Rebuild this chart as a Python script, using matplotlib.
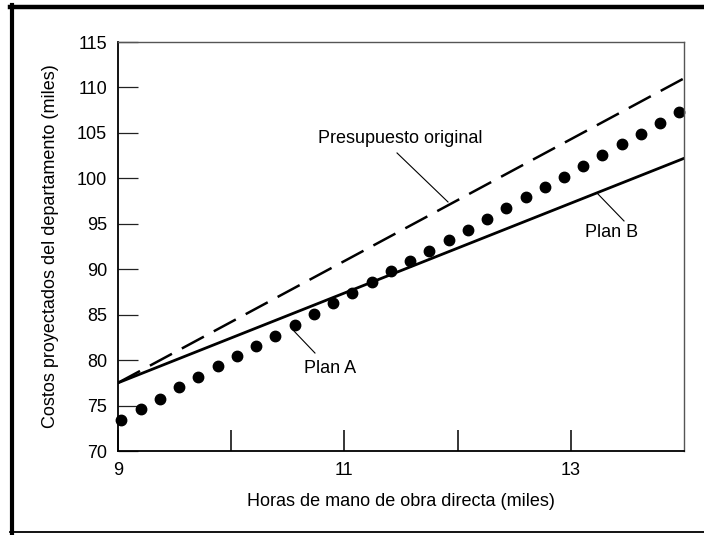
import matplotlib
matplotlib.use("Agg")
import matplotlib.pyplot as plt
from matplotlib.lines import Line2D

plt.rcParams['font.family'] = ['Liberation Sans', 'DejaVu Sans']

# Data
line_x = [9, 14]
presupuesto_original = [77.5, 111.0]
plan_b = [77.5, 102.2]

plan_a_x = [9.03, 9.20, 9.37, 9.54, 9.71, 9.88, 10.05, 10.22, 10.39, 10.56,
            10.73, 10.90, 11.07, 11.24, 11.41, 11.58, 11.75, 11.92, 12.09, 12.26,
            12.43, 12.60, 12.77, 12.94, 13.11, 13.28, 13.45, 13.62, 13.79, 13.96]
plan_a_y = [73.4, 74.6, 75.7, 77.0, 78.1, 79.3, 80.5, 81.6, 82.7, 83.9,
            85.1, 86.25, 87.4, 88.6, 89.8, 90.9, 92.0, 93.2, 94.3, 95.5,
            96.7, 98.0, 99.0, 100.2, 101.4, 102.6, 103.8, 104.9, 106.1, 107.3]

x_ticks = [9, 10, 11, 12, 13]
x_tick_labels = ['9', '', '11', '', '13']
y_ticks = [70, 75, 80, 85, 90, 95, 100, 105, 110, 115]

fig = plt.figure(figsize=(7.04, 5.35), dpi=100)
ax = fig.add_axes([118/704, 1-451/535, 566/704, 409/535])

ax.plot(line_x, presupuesto_original, color='black', lw=1.8, dashes=(10, 4.5),
        solid_capstyle='butt', dash_capstyle='butt')
ax.plot(line_x, plan_b, color='black', lw=2.0)
ax.plot(plan_a_x, plan_a_y, linestyle='none', marker='o', ms=7.5,
        color='black', clip_on=False)

ax.set_xlim(9, 14)
ax.set_ylim(70, 115)
ax.set_xticks(x_ticks)
ax.set_xticklabels(x_tick_labels)
ax.set_yticks(y_ticks)

ax.tick_params(axis='y', direction='in', length=14.5, width=0.9, pad=8,
               labelsize=13, color='#222222')
ax.tick_params(axis='x', direction='in', length=15, width=1.1, pad=8,
               labelsize=13, color='black')

for s in ['left', 'bottom']:
    ax.spines[s].set_linewidth(1.3)
    ax.spines[s].set_color('black')
for s in ['top', 'right']:
    ax.spines[s].set_linewidth(1.0)
    ax.spines[s].set_color('#555555')

ax.set_xlabel('Horas de mano de obra directa (miles)', fontsize=13, labelpad=10)
ax.set_ylabel('Costos proyectados del departamento (miles)', fontsize=13, labelpad=13)

# Annotations
ax.text(11.49, 104.4, 'Presupuesto original', fontsize=13, ha='center', va='center')
ax.plot([11.465, 11.915], [102.79, 97.40], color='black', lw=0.8)

ax.text(13.36, 94.0, 'Plan B', fontsize=13, ha='center', va='center')
ax.plot([13.231, 13.47], [98.39, 95.31], color='black', lw=0.8)

ax.text(10.875, 79.1, 'Plan A', fontsize=13, ha='center', va='center')
ax.plot([10.546, 10.74], [83.31, 80.78], color='black', lw=0.8)

# Figure frame
fig.add_artist(Line2D([10/704, 1.0], [1-7/535, 1-7/535], transform=fig.transFigure,
                      color='black', lw=3.2))
fig.add_artist(Line2D([11.5/704, 11.5/704], [1-5/535, 1-533/535], transform=fig.transFigure,
                      color='black', lw=3.0))
fig.add_artist(Line2D([10/704, 1.0], [1-532/535, 1-532/535], transform=fig.transFigure,
                      color='black', lw=1.3))

fig.savefig('out.png', dpi=100)
